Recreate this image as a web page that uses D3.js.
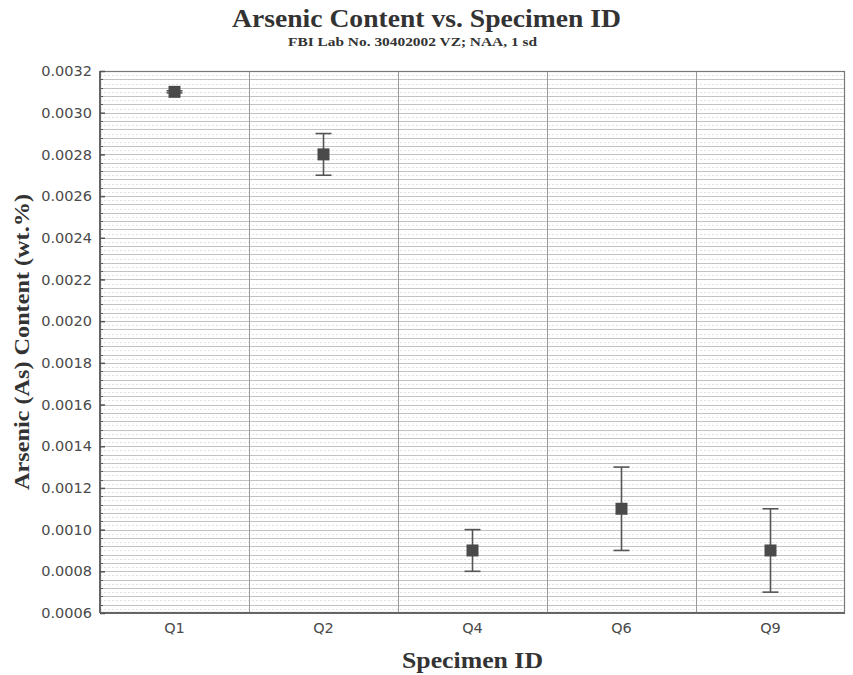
<!DOCTYPE html>
<html>
<head>
<meta charset="utf-8">
<script src="https://cdn.jsdelivr.net/npm/d3@7"></script>
<style>
  html, body { margin: 0; padding: 0; background: #fff; }
  svg { display: block; }
</style>
</head>
<body>
<svg id="chart" width="853" height="675"></svg>
<script>
// ---- data ----
const categories = ["Q1", "Q2", "Q4", "Q6", "Q9"];
const values = [0.0031, 0.0028, 0.0009, 0.0011, 0.0009];
const sds = [0.000005, 0.0001, 0.0001, 0.0002, 0.0002];
const yDomain = [0.0006, 0.0032];
const yTickValues = [0.0006, 0.0008, 0.0010, 0.0012, 0.0014, 0.0016, 0.0018, 0.0020,
                     0.0022, 0.0024, 0.0026, 0.0028, 0.0030, 0.0032];
const titleText = "Arsenic Content vs. Specimen ID";
const subtitleText = "FBI Lab No. 30402002 VZ; NAA, 1 sd";
const xLabelText = "Specimen ID";
const yLabelText = "Arsenic (As) Content (wt.%)";

// ---- layout ----
const W = 853, H = 675;
const m = { left: 100, right: 8, top: 71, bottom: 62 };
const pw = W - m.left - m.right, ph = H - m.top - m.bottom;

const svg = d3.select("#chart");
const g = svg.append("g").attr("transform", `translate(${m.left},${m.top})`);

const x = d3.scaleBand().domain(categories).range([0, pw]).padding(0);
const y = d3.scaleLinear().domain(yDomain).range([ph, 0]);

// minor grid: every 0.00004 solid, midpoints dotted
const nMinor = Math.round((yDomain[1] - yDomain[0]) / 0.00002);
const minor = d3.range(0, nMinor + 1).map(i => yDomain[0] + i * 0.00002);
g.append("g").selectAll("line").data(minor.filter((d, i) => i % 2 === 1)).join("line")
  .attr("x1", 0).attr("x2", pw)
  .attr("y1", d => Math.round(y(d)) + 0.5).attr("y2", d => Math.round(y(d)) + 0.5)
  .attr("stroke", "#e2e2e2").attr("stroke-width", 1).attr("stroke-dasharray", "2,2");
g.append("g").selectAll("line").data(minor.filter((d, i) => i % 2 === 0)).join("line")
  .attr("x1", 0).attr("x2", pw)
  .attr("y1", d => Math.round(y(d)) + 0.5).attr("y2", d => Math.round(y(d)) + 0.5)
  .attr("stroke", "#c2c2c2").attr("stroke-width", 1);

// vertical separators between categories
const seps = categories.slice(1).map(c => x(c));
g.append("g").selectAll("line").data(seps).join("line")
  .attr("x1", d => Math.round(d) + 0.5).attr("x2", d => Math.round(d) + 0.5)
  .attr("y1", 0).attr("y2", ph)
  .attr("stroke", "#9a9a9a").attr("stroke-width", 1);

// left minor ticks (inward)
g.append("g").selectAll("line").data(minor.filter((d, i) => i % 2 === 0)).join("line")
  .attr("x1", 0).attr("x2", 3)
  .attr("y1", d => Math.round(y(d)) + 0.5).attr("y2", d => Math.round(y(d)) + 0.5)
  .attr("stroke", "#555").attr("stroke-width", 1);

// frame
g.append("rect").attr("x", 0.5).attr("y", 0.5).attr("width", pw - 1).attr("height", ph - 1)
  .attr("fill", "none").attr("stroke", "#777").attr("stroke-width", 1.2);
g.append("line").attr("x1", 0).attr("x2", pw).attr("y1", ph).attr("y2", ph)
  .attr("stroke", "#666").attr("stroke-width", 2.2);
g.append("line").attr("x1", 0).attr("x2", 0).attr("y1", 0).attr("y2", ph)
  .attr("stroke", "#666").attr("stroke-width", 2);

// Y axis
const yAxis = d3.axisLeft(y).tickValues(yTickValues).tickFormat(d3.format(".4f"))
  .tickSizeInner(-5).tickSizeOuter(0).tickPadding(8);
const ya = g.append("g").call(yAxis);
ya.select(".domain").remove();
ya.selectAll(".tick line").attr("stroke", "#555").attr("stroke-width", 1.5);
ya.selectAll(".tick text").attr("font-family", "DejaVu Sans, sans-serif")
  .attr("font-size", 14.5).attr("fill", "#4a4a4a");

// X axis
const xAxis = d3.axisBottom(x).tickSize(0).tickPadding(10);
const xa = g.append("g").attr("transform", `translate(0,${ph})`).call(xAxis);
xa.select(".domain").remove();
xa.selectAll(".tick text").attr("font-family", "DejaVu Sans, sans-serif")
  .attr("font-size", 14.5).attr("fill", "#4a4a4a");

// error bars
const cap = 8;
const eb = g.append("g").selectAll("g").data(categories).join("g");
eb.append("line")
  .attr("x1", d => x(d) + x.bandwidth() / 2).attr("x2", d => x(d) + x.bandwidth() / 2)
  .attr("y1", (d, i) => y(values[i] + sds[i])).attr("y2", (d, i) => y(values[i] - sds[i]))
  .attr("stroke", "#555").attr("stroke-width", 1.6);
eb.append("line")
  .attr("x1", d => x(d) + x.bandwidth() / 2 - cap).attr("x2", d => x(d) + x.bandwidth() / 2 + cap)
  .attr("y1", (d, i) => y(values[i] + sds[i])).attr("y2", (d, i) => y(values[i] + sds[i]))
  .attr("stroke", "#555").attr("stroke-width", 1.6);
eb.append("line")
  .attr("x1", d => x(d) + x.bandwidth() / 2 - cap).attr("x2", d => x(d) + x.bandwidth() / 2 + cap)
  .attr("y1", (d, i) => y(values[i] - sds[i])).attr("y2", (d, i) => y(values[i] - sds[i]))
  .attr("stroke", "#555").attr("stroke-width", 1.6);

// markers
const ms = 12;
g.append("g").selectAll("rect").data(categories).join("rect")
  .attr("x", d => x(d) + x.bandwidth() / 2 - ms / 2)
  .attr("y", (d, i) => y(values[i]) - ms / 2)
  .attr("width", ms).attr("height", ms)
  .attr("fill", "#4a4a4a");

// titles
const serif = "Liberation Serif, Times New Roman, serif";
svg.append("text").attr("x", 426.5).attr("y", 27).attr("text-anchor", "middle")
  .attr("font-family", serif).attr("font-weight", "bold")
  .attr("font-size", 24.5).attr("fill", "#333")
  .attr("textLength", 389).attr("lengthAdjust", "spacingAndGlyphs").text(titleText);
svg.append("text").attr("x", 412.5).attr("y", 46).attr("text-anchor", "middle")
  .attr("font-family", serif).attr("font-weight", "bold")
  .attr("font-size", 13.5).attr("fill", "#333")
  .attr("textLength", 249).attr("lengthAdjust", "spacingAndGlyphs").text(subtitleText);
svg.append("text").attr("x", m.left + pw / 2).attr("y", 668).attr("text-anchor", "middle")
  .attr("font-family", serif).attr("font-weight", "bold")
  .attr("font-size", 23).attr("fill", "#333")
  .attr("textLength", 141).attr("lengthAdjust", "spacingAndGlyphs").text(xLabelText);
svg.append("text").attr("transform", `translate(29,${m.top + ph / 2}) rotate(-90)`)
  .attr("text-anchor", "middle")
  .attr("font-family", serif).attr("font-weight", "bold")
  .attr("font-size", 20.5).attr("fill", "#333")
  .attr("textLength", 296).attr("lengthAdjust", "spacingAndGlyphs").text(yLabelText);
</script>
</body>
</html>
